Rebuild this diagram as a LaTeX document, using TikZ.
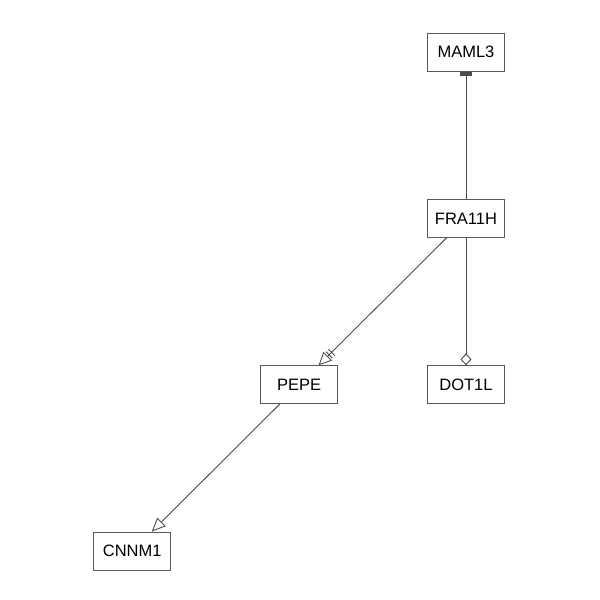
\documentclass[tikz,border=0pt]{standalone}
\usepackage{fontspec}
\setmainfont{Liberation Sans}
\usepackage{tikz}
\usetikzlibrary{positioning}
\usetikzlibrary{arrows.meta}

\begin{document}
\begin{tikzpicture}[
    x=1pt, y=-1pt,
    node distance=127.5pt and 89pt,
    gene/.style={draw=black!65,line width=0.9pt,fill=white,minimum width=77pt,minimum height=38pt,inner sep=0pt,font=\fontsize{16.5}{20}\selectfont},
    link/.style={draw=black!70,line width=0.9pt},
    tee/.style={-{Rectangle[width=12pt,length=3.5pt,sep=1pt,fill=black!70,color=black!70]}},
    open/.style={-{Bar[width=9pt,line width=0.9pt,sep=2.5pt]Bar[width=9pt,line width=0.9pt,sep=1.5pt]Triangle[open,length=13pt,width=12pt,fill=white]}},
    diam/.style={-{Diamond[open,length=12pt,width=11pt,fill=white]}},
    tri/.style={-{Triangle[open,length=14pt,width=12pt,fill=white]}}
    ]

    \useasboundingbox (0,0) rectangle (600,600);

    \node[gene] (maml3) at (466,52) {MAML3};
    \node[gene, below=of maml3] (fra11h) {FRA11H};
    \node[gene, below=of fra11h] (dot1l) {DOT1L};
    \node[gene, left=of dot1l] (pepe) {PEPE};
    \node[gene, below left=of pepe] (cnnm1) {CNNM1};

    \path (fra11h) edge[link,tee] (maml3)
    (fra11h) edge[link,open] (pepe)
    (fra11h) edge[link,diam] (dot1l)

    (pepe) edge[link,tri] (cnnm1)
    ;

\end{tikzpicture}
\end{document}
